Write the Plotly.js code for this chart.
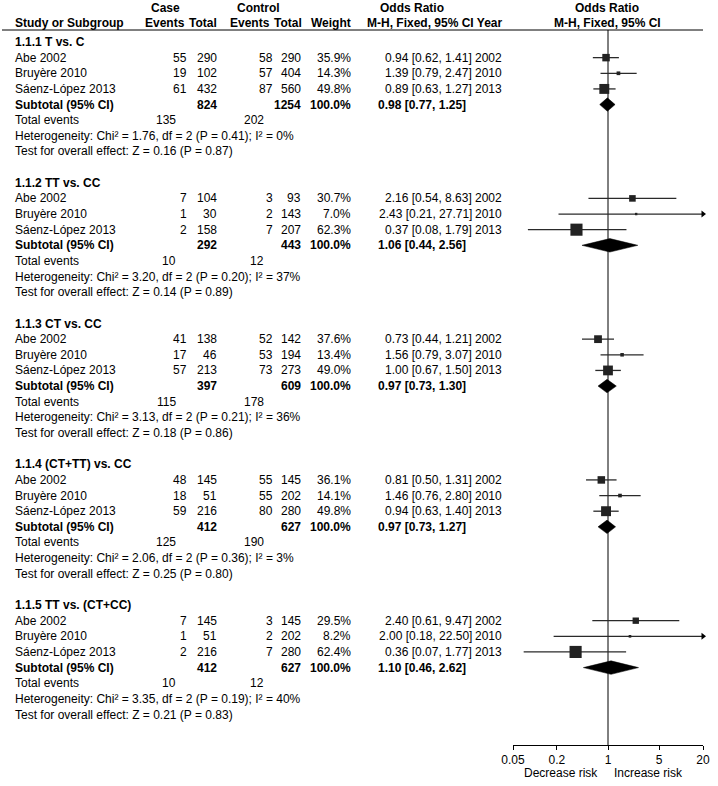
<!DOCTYPE html>
<html><head><meta charset="utf-8">
<script src="https://cdn.plot.ly/plotly-3.0.1.min.js"></script>
<style>html,body{margin:0;padding:0;background:#fff}#chart{width:718px;height:786px}</style>
</head><body><div id="chart"></div>
<script>
// ---------------- DATA ----------------
const sections = ['1.1.1 T vs. C', '1.1.2 TT vs. CC', '1.1.3 CT vs. CC', '1.1.4 (CT+TT) vs. CC', '1.1.5 TT vs. (CT+CC)'];
const studies = ['Abe 2002', 'Bruyère 2010', 'Sáenz-López 2013'];
const years = [2002, 2010, 2013];
const caseEvents = [[55,19,61],[7,1,2],[41,17,57],[48,18,59],[7,1,2]];
const caseTotal  = [[290,102,432],[104,30,158],[138,46,213],[145,51,216],[145,51,216]];
const ctrlEvents = [[58,57,87],[3,2,7],[52,53,73],[55,55,80],[3,2,7]];
const ctrlTotal  = [[290,404,560],[93,143,207],[142,194,273],[145,202,280],[145,202,280]];
const weights    = [[35.9,14.3,49.8],[30.7,7.0,62.3],[37.6,13.4,49.0],[36.1,14.1,49.8],[29.5,8.2,62.4]];
const orEst = [[0.94,1.39,0.89],[2.16,2.43,0.37],[0.73,1.56,1.00],[0.81,1.46,0.94],[2.40,2.00,0.36]];
const orLo  = [[0.62,0.79,0.63],[0.54,0.21,0.08],[0.44,0.79,0.67],[0.50,0.76,0.63],[0.61,0.18,0.07]];
const orHi  = [[1.41,2.47,1.27],[8.63,27.71,1.79],[1.21,3.07,1.50],[1.31,2.80,1.40],[9.47,22.50,1.77]];
const subCaseTotal = [824,292,397,412,412];
const subCtrlTotal = [1254,443,609,627,627];
const subOR = [0.98,1.06,0.97,0.97,1.10];
const subLo = [0.77,0.44,0.73,0.73,0.46];
const subHi = [1.25,2.56,1.30,1.27,2.62];
const totCaseEvents = [135,10,115,125,10];
const totCtrlEvents = [202,12,178,190,12];
const chi2 = ['1.76','3.20','3.13','2.06','3.35'];
const hetDf = [2,2,2,2,2];
const hetP = ['0.41','0.20','0.21','0.36','0.19'];
const iSq = [0,37,36,3,40];
const zVal = ['0.16','0.14','0.18','0.25','0.21'];
const zP = ['0.87','0.89','0.86','0.80','0.83'];
const tickVals = [0.05,0.2,1,5,20];
const tickText = ['0.05','0.2','1','5','20'];

// ---------------- LAYOUT HELPERS ----------------
const W = 718, H = 786;
const ROW0 = 42, ROWH = 15.64;
const AXIS_PX = 745;
const rowOf = px => (px - ROW0) / ROWH;
const py = px => 1 - px / H;
const FONT = '"Liberation Sans", Arial, Helvetica, sans-serif';
const FS = 12;
const XMIN = tickVals[0], XMAX = tickVals[tickVals.length - 1];
const annotations = [];
function txt(t, xpx, row, anchor, bold) {
  annotations.push({text: bold ? '<b>' + t + '</b>' : t, x: xpx / W, xref: 'paper', y: row, yref: 'y',
    xanchor: anchor, yanchor: 'middle', showarrow: false, borderpad: 0,
    font: {family: FONT, size: FS, color: '#000'}});
}
function ptxt(t, xpx, ypx, anchor, bold) {
  annotations.push({text: bold ? '<b>' + t + '</b>' : t, x: xpx / W, xref: 'paper', y: py(ypx), yref: 'paper',
    xanchor: anchor, yanchor: 'middle', showarrow: false, borderpad: 0,
    font: {family: FONT, size: FS, color: '#000'}});
}

// header
ptxt('Case', 165, 8, 'center', true);
ptxt('Control', 258, 8, 'center', true);
ptxt('Odds Ratio', 412, 8, 'center', true);
ptxt('Odds Ratio', 607, 8, 'center', true);
ptxt('Study or Subgroup', 14, 23, 'left', true);
ptxt('Events', 186, 23, 'right', true);
ptxt('Total', 218, 23, 'right', true);
ptxt('Events', 271, 23, 'right', true);
ptxt('Total', 303, 23, 'right', true);
ptxt('Weight', 352, 23, 'right', true);
ptxt('M-H, Fixed, 95% CI Year', 503, 23, 'right', true);
ptxt('M-H, Fixed, 95% CI', 607, 23, 'center', true);

const sqX = [], sqY = [], sqS = [];
const ciX = [], ciY = [];
const arX = [], arY = [];
const dX = [], dY = [];
const DH = 0.43;

sections.forEach((sec, s) => {
  const base = 9 * s;
  txt(sec, 14, base, 'left', true);
  studies.forEach((st, i) => {
    const r = base + 1 + i;
    txt(st, 14, r, 'left');
    txt(String(caseEvents[s][i]), 188, r, 'right');
    txt(String(caseTotal[s][i]), 218, r, 'right');
    txt(String(ctrlEvents[s][i]), 274, r, 'right');
    txt(String(ctrlTotal[s][i]), 302, r, 'right');
    txt(weights[s][i].toFixed(1) + '%', 352, r, 'right');
    txt(orEst[s][i].toFixed(2) + ' [' + orLo[s][i].toFixed(2) + ', ' + orHi[s][i].toFixed(2) + ']', 473, r, 'right');
    txt(String(years[i]), 503, r, 'right');
    sqX.push(orEst[s][i]); sqY.push(r); sqS.push(1.2 + 0.175 * weights[s][i]);
    const hi = Math.min(orHi[s][i], XMAX);
    ciX.push(Math.max(orLo[s][i], XMIN), hi, null); ciY.push(r, r, null);
    if (orHi[s][i] > XMAX) { arX.push(XMAX); arY.push(r); }
  });
  const rs = base + 4;
  txt('Subtotal (95% CI)', 14, rs, 'left', true);
  txt(String(subCaseTotal[s]), 218, rs, 'right', true);
  txt(String(subCtrlTotal[s]), 302, rs, 'right', true);
  txt('100.0%', 352, rs, 'right', true);
  txt(subOR[s].toFixed(2) + ' [' + subLo[s].toFixed(2) + ', ' + subHi[s].toFixed(2) + ']', 467, rs, 'right', true);
  dX.push(subLo[s], subOR[s], subHi[s], subOR[s], subLo[s], null);
  dY.push(rs, rs - DH, rs, rs + DH, rs, null);
  txt('Total events', 14, base + 5, 'left');
  txt(String(totCaseEvents[s]), 177, base + 5, 'right');
  txt(String(totCtrlEvents[s]), 265, base + 5, 'right');
  txt('Heterogeneity: Chi² = ' + chi2[s] + ', df = ' + hetDf[s] + ' (P = ' + hetP[s] + '); I² = ' + iSq[s] + '%', 14, base + 6, 'left');
  txt('Test for overall effect: Z = ' + zVal[s] + ' (P = ' + zP[s] + ')', 14, base + 7, 'left');
});

ptxt('Decrease risk', 599, 773, 'right');
ptxt('Increase risk', 613, 773, 'left');

const traces = [
  {type: 'scatter', mode: 'lines', x: ciX, y: ciY, line: {color: '#2a2a2a', width: 1.3}, hoverinfo: 'skip', showlegend: false},
  {type: 'scatter', mode: 'markers', x: sqX, y: sqY, marker: {symbol: 'square', size: sqS, color: '#222222', opacity: 1, line: {width: 0}}, opacity: 1, showlegend: false, cliponaxis: false},
  {type: 'scatter', mode: 'markers', x: arX, y: arY, marker: {symbol: 'triangle-right', size: 6, color: '#000', opacity: 1, line: {width: 0}}, showlegend: false, cliponaxis: false},
  {type: 'scatter', mode: 'lines', x: dX, y: dY, fill: 'toself', fillcolor: '#000', line: {color: '#000', width: 0.5}, showlegend: false, hoverinfo: 'skip'}
];

const layout = {
  width: W, height: H, margin: {l: 0, r: 0, t: 0, b: 0},
  paper_bgcolor: '#fff', plot_bgcolor: 'rgba(0,0,0,0)',
  showlegend: false,
  font: {family: FONT, size: FS, color: '#000'},
  xaxis: {type: 'log', range: [Math.log10(XMIN), Math.log10(XMAX)], domain: [513 / W, 703 / W],
    anchor: 'free', position: py(AXIS_PX), showline: true, linecolor: '#000', linewidth: 1,
    ticks: 'outside', ticklen: 4, tickwidth: 1, tickcolor: '#000',
    tickmode: 'array', tickvals: tickVals, ticktext: tickText, showgrid: false, zeroline: false,
    tickfont: {family: FONT, size: FS, color: '#000'}, fixedrange: true},
  yaxis: {range: [rowOf(H), rowOf(0)], domain: [0, 1], visible: false, showgrid: false, zeroline: false, fixedrange: true},
  shapes: [
    {type: 'line', xref: 'paper', yref: 'paper', x0: 2 / W, x1: 703 / W, y0: py(30), y1: py(30), line: {color: '#000', width: 1}},
    {type: 'line', xref: 'x', yref: 'paper', x0: 1, x1: 1, y0: py(AXIS_PX), y1: py(30), line: {color: '#000', width: 1}, layer: 'below'}
  ],
  annotations: annotations
};
Plotly.newPlot('chart', traces, layout, {displayModeBar: false, staticPlot: true});
</script>
</body></html>
